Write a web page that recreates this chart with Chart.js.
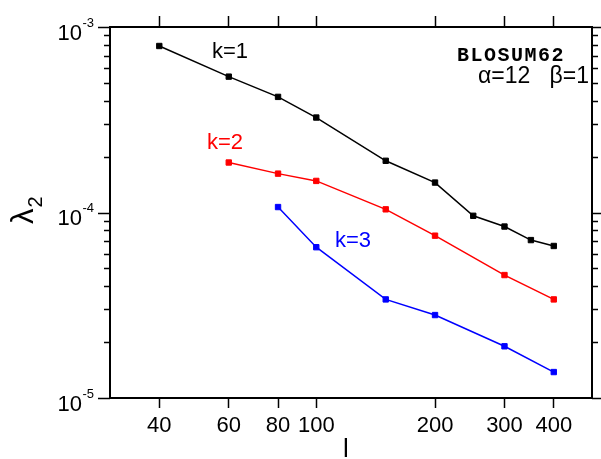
<!DOCTYPE html>
<html>
<head>
<meta charset="utf-8">
<script src="https://cdn.jsdelivr.net/npm/chart.js@4.4.1/dist/chart.umd.min.js"></script>
<style>
    html, body { margin: 0; padding: 0; background: #fff; }
    #wrap { width: 601px; height: 459px; }
</style>
</head>
<body>
<div id="wrap"><canvas id="lambdaChart" width="601" height="459"></canvas></div>
<script>
// sequence length l and second eigenvalue lambda_2 for each k
const k1Lengths = [40, 60, 80, 100, 150, 200, 250, 300, 350, 400];
const k1Values = [7.9e-4, 5.4e-4, 4.2e-4, 3.25e-4, 1.9e-4, 1.45e-4, 9.6e-5, 8.4e-5, 7.1e-5, 6.6e-5];
const k2Lengths = [60, 80, 100, 150, 200, 300, 400];
const k2Values = [1.86e-4, 1.62e-4, 1.48e-4, 1.04e-4, 7.5e-5, 4.6e-5, 3.4e-5];
const k3Lengths = [80, 100, 150, 200, 300, 400];
const k3Values = [1.07e-4, 6.5e-5, 3.4e-5, 2.8e-5, 1.9e-5, 1.38e-5];

const xTickValues = [40, 60, 80, 100, 200, 300, 400];
const yExponents = [-5, -4, -3];

const FONT = "'Liberation Sans', Arial, sans-serif";

function points(xs, ys) {
    return xs.map((x, i) => ({ x: x, y: ys[i] }));
}

function series(label, xs, ys, color) {
    return {
        label: label,
        data: points(xs, ys),
        borderColor: color,
        backgroundColor: color,
        borderWidth: 1.5,
        pointStyle: 'rect',
        pointRadius: 3.8,
        pointBorderWidth: 1,
        tension: 0
    };
}

// tick marks and labels on the y axes, plus text annotations
const decorations = {
    id: 'decorations',
    afterDraw(chart) {
        const { ctx, chartArea: a } = chart;
        const y = chart.scales.y;
        ctx.save();
        ctx.strokeStyle = '#000';
        ctx.lineWidth = 1.5;

        const drawTick = (v, lenL, lenR) => {
            const py = Math.round(y.getPixelForValue(v)) + 0.5;
            ctx.beginPath();
            ctx.moveTo(a.left - lenL, py);
            ctx.lineTo(a.left, py);
            ctx.moveTo(a.right, py);
            ctx.lineTo(a.right + lenR, py);
            ctx.stroke();
        };

        yExponents.forEach(e => drawTick(Math.pow(10, e), 12, 9));
        for (let e = yExponents[0]; e < yExponents[yExponents.length - 1]; e++) {
            for (let m = 2; m <= 9; m++) drawTick(m * Math.pow(10, e), 6, 6);
        }

        // y tick labels 10^e
        ctx.fillStyle = '#000';
        ctx.textBaseline = 'alphabetic';
        yExponents.forEach(e => {
            const py = y.getPixelForValue(Math.pow(10, e));
            const sup = String(e);
            ctx.font = '13px ' + FONT;
            const supW = ctx.measureText(sup).width;
            const right = 94;
            ctx.textAlign = 'left';
            ctx.fillText(sup, right - supW, py - 0.5);
            ctx.font = '22px ' + FONT;
            ctx.textAlign = 'right';
            ctx.fillText('10', right - supW - 0.5, py + 12.5);
        });

        // axis titles
        ctx.textAlign = 'center';
        ctx.font = '26px ' + FONT;
        ctx.fillText('l', 346, 457);

        ctx.save();
        ctx.translate(33, 224);
        ctx.rotate(-Math.PI / 2);
        ctx.textAlign = 'left';
        ctx.font = '31px ' + FONT;
        ctx.fillText('\u03bb', 0, 0);
        const lw = ctx.measureText('\u03bb').width;
        ctx.font = '20px ' + FONT;
        ctx.fillText('2', lw + 1, 9);
        ctx.restore();

        // series labels
        ctx.textAlign = 'center';
        ctx.font = '22px ' + FONT;
        ctx.fillStyle = '#000';
        ctx.fillText('k=1', 230, 58);
        ctx.fillStyle = '#ff0000';
        ctx.fillText('k=2', 225, 149);
        ctx.fillStyle = '#0000ff';
        ctx.fillText('k=3', 353, 247);

        // matrix and gap parameters
        ctx.fillStyle = '#000';
        ctx.textAlign = 'right';
        ctx.font = "bold 20px 'Liberation Mono', 'Courier New', monospace";
        ctx.letterSpacing = '1.5px';
        ctx.fillText('BLOSUM62', 565, 61);
        ctx.letterSpacing = '0px';
        ctx.font = '23px ' + FONT;
        ctx.fillText('\u03b1=12   \u03b2=1', 589, 83);
        ctx.restore();
    }
};

function logX(position, showLabels, height, tickLen) {
    return {
        type: 'logarithmic',
        position: position,
        min: 30,
        max: 500,
        afterBuildTicks: scale => { scale.ticks = xTickValues.map(v => ({ value: v })); },
        afterFit: scale => { scale.height = height; },
        ticks: {
            display: showLabels,
            autoSkip: false,
            maxRotation: 0,
            padding: 5,
            color: '#000',
            font: { family: FONT, size: 22 },
            callback: v => String(v)
        },
        grid: {
            display: true,
            drawOnChartArea: false,
            drawTicks: true,
            tickLength: tickLen,
            tickColor: '#000',
            tickWidth: 1.5
        },
        border: { display: true, color: '#000', width: 2 }
    };
}

function logY(position, width) {
    return {
        type: 'logarithmic',
        position: position,
        min: 1e-5,
        max: 1e-3,
        afterFit: scale => { scale.width = width; },
        ticks: { display: false },
        grid: { display: false, drawTicks: false },
        border: { display: true, color: '#000', width: 2 }
    };
}

document.addEventListener('DOMContentLoaded', () => {
    new Chart(document.getElementById('lambdaChart'), {
        type: 'line',
        data: {
            datasets: [
                series('k=1', k1Lengths, k1Values, '#000000'),
                series('k=2', k2Lengths, k2Values, '#ff0000'),
                series('k=3', k3Lengths, k3Values, '#0000ff')
            ]
        },
        options: {
            responsive: false,
            devicePixelRatio: 1,
            animation: false,
            layout: { padding: 0 },
            plugins: { legend: { display: false }, tooltip: { enabled: false } },
            scales: {
                x: logX('bottom', true, 61, 10),
                x2: logX('top', false, 27, 11),
                y: logY('left', 110),
                y2: logY('right', 9)
            }
        },
        plugins: [decorations]
    });
});
</script>
</body>
</html>
